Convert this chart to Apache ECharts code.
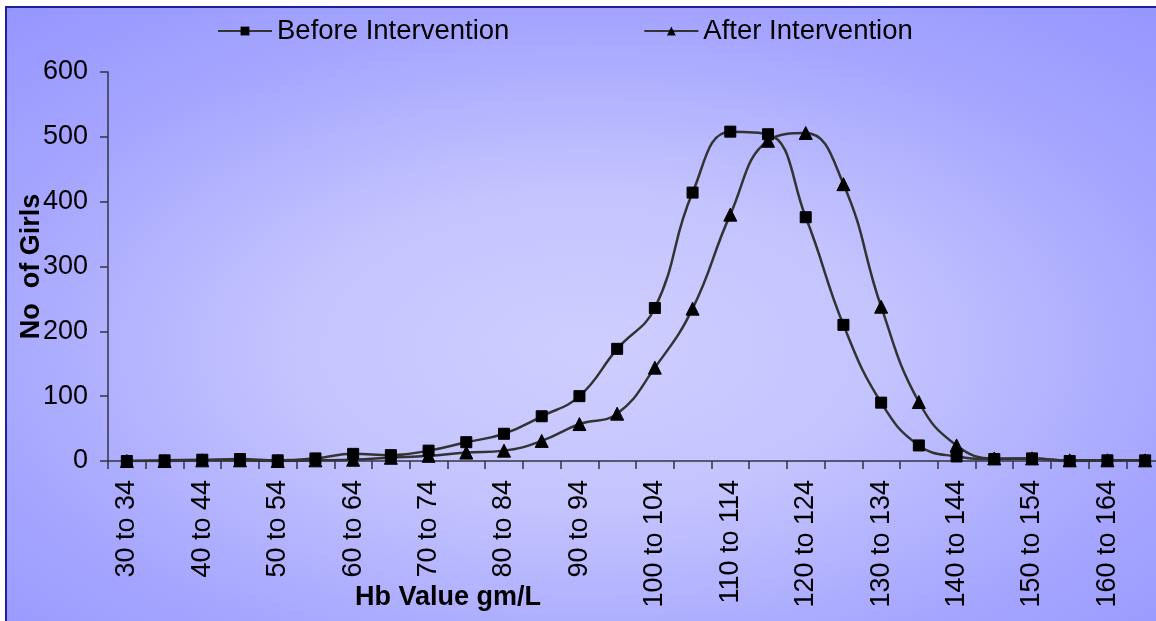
<!DOCTYPE html>
<html>
<head>
<meta charset="utf-8">
<title>Hb distribution of girls</title>
<script src="https://cdn.jsdelivr.net/npm/echarts@6/dist/echarts.min.js"></script>
<style>
  html, body { margin: 0; padding: 0; background: #ffffff; }
  #chart { width: 1156px; height: 621px; }
</style>
</head>
<body>
<div id="chart"></div>
<script>
// Hb value bands (gm/L)
const categories = [
  '30 to 34', '35 to 39', '40 to 44', '45 to 49', '50 to 54', '55 to 59',
  '60 to 64', '65 to 69', '70 to 74', '75 to 79', '80 to 84', '85 to 89',
  '90 to 94', '95 to 99', '100 to 104', '105 to 109', '110 to 114', '115 to 119',
  '120 to 124', '125 to 129', '130 to 134', '135 to 139', '140 to 144', '145 to 149',
  '150 to 154', '155 to 159', '160 to 164', '165 to 169'
];

// Number of girls in each band
const beforeIntervention = [0, 1, 2, 3, 1, 4, 11, 9, 16, 29, 42, 69, 100, 173, 236, 414, 508, 504, 376, 210, 90, 24, 7, 3, 4, 0, 1, 1];
const afterIntervention  = [0, 0, 1, 1, 0, 1, 2, 5, 8, 13, 16, 31, 57, 73, 144, 235, 380, 494, 506, 427, 238, 91, 24, 4, 4, 1, 1, 1];

const seriesNames = ['Before Intervention', 'After Intervention'];
const yTicks = { min: 0, max: 600, step: 100 };

const FONT = '"Liberation Sans", Arial, sans-serif';
const INK = '#000000';
const AXIS = '#333344';

const chart = echarts.init(document.getElementById('chart'), null, { renderer: 'canvas' });

const lineSeries = (name, data, symbol, size) => ({
  name,
  type: 'line',
  data,
  smooth: 0.45,
  smoothConstraint: false,
  symbol,
  symbolSize: size,
  showAllSymbol: true,
  lineStyle: { color: '#333333', width: 2.5 },
  itemStyle: { color: '#000000', borderColor: '#000000' },
  emphasis: { disabled: true },
  z: 3
});

chart.setOption({
  backgroundColor: '#ffffff',
  animation: false,
  graphic: [
    {
      // plot-area fill: soft lavender glow from the centre
      type: 'rect',
      z: -20,
      silent: true,
      x: 6,
      y: 7,
      scaleY: 620 / 1160,
      shape: { x: 0, y: 0, width: 1160, height: 1160 },
      style: {
        fill: {
          type: 'radial', x: 0.5, y: 0.55, r: 0.72,
          colorStops: [
            { offset: 0, color: '#CECEFF' },
            { offset: 0.35, color: '#C4C4FF' },
            { offset: 0.72, color: '#A6A6FF' },
            { offset: 1, color: '#9797FF' }
          ]
        }
      }
    },
    {
      type: 'rect',
      z: -19,
      silent: true,
      shape: { x: 6, y: 7, width: 1170, height: 640 },
      style: { fill: 'none', stroke: '#20209a', lineWidth: 2 }
    },
    {
      type: 'text',
      left: 355,
      top: 584,
      silent: true,
      style: { text: 'Hb Value gm/L', fill: INK, font: 'bold 27px ' + FONT }
    }
  ],
  legend: {
    top: 12,
    left: 212,
    itemGap: 134,
    itemWidth: 54,
    itemHeight: 11,
    data: seriesNames,
    textStyle: { fontFamily: FONT, fontSize: 27.5, color: INK },
    selectedMode: false
  },
  grid: {
    left: 108, top: 72, width: 1056, height: 389,
    containLabel: false,
    outerBoundsMode: 'none'
  },
  xAxis: {
    type: 'category',
    data: categories,
    boundaryGap: true,
    axisLine: { lineStyle: { color: AXIS, width: 1.5 } },
    axisTick: { show: true, interval: 0, length: 8, lineStyle: { color: AXIS, width: 1.5 } },
    axisLabel: {
      interval: 1,
      rotate: 90,
      margin: 19,
      fontFamily: FONT,
      fontSize: 27,
      color: INK
    },
    splitLine: { show: false }
  },
  yAxis: {
    type: 'value',
    min: yTicks.min,
    max: yTicks.max,
    interval: yTicks.step,
    name: 'No  of Girls',
    nameLocation: 'middle',
    nameGap: 63,
    nameMoveOverlap: false,
    nameTextStyle: { fontFamily: FONT, fontSize: 27, fontWeight: 'bold', color: INK },
    axisLine: { show: true, lineStyle: { color: AXIS, width: 1.5 } },
    axisTick: { show: true, length: 8, lineStyle: { color: AXIS, width: 1.5 } },
    axisLabel: { margin: 20, fontFamily: FONT, fontSize: 27, color: INK },
    splitLine: { show: false }
  },
  series: [
    lineSeries(seriesNames[0], beforeIntervention, 'rect', 11),
    lineSeries(seriesNames[1], afterIntervention, 'triangle', 13)
  ]
});
</script>
</body>
</html>
